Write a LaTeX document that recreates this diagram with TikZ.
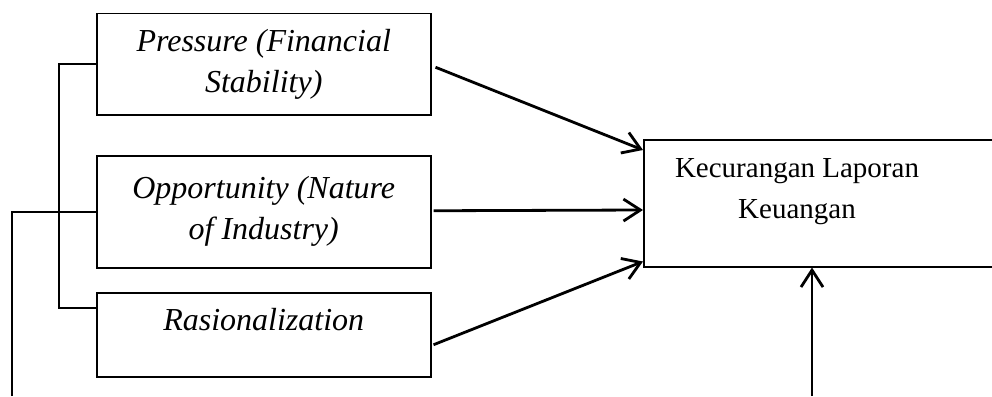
\documentclass[tikz,border=0pt]{standalone}
\usepackage{fontspec}
\setmainfont{Liberation Serif}
\usetikzlibrary{arrows.meta,calc,positioning}
\tikzset{
	factor/.style={draw, line width=1.5pt, minimum width=334pt, inner sep=0pt, align=center, anchor=north west, font=\fontsize{32}{41}\selectfont\itshape},
	link/.style={line width=2.8pt, -{Straight Barb[length=17pt,width=22pt]}},
	bracket/.style={line width=2.4pt}
}
\begin{document}
\begin{tikzpicture}[x=1pt,y=-1pt]
	\useasboundingbox (0,0) rectangle (992,396);
	\node[factor, minimum height=101pt] (1) at (96,13) {Pressure (Financial\\Stability)};
	\node[factor, minimum height=112pt] (2) at (96,155) {Opportunity (Nature\\of Industry)};
	\node[factor, minimum height=84pt, text height=20pt, text depth=28pt] (3) at (96,292) {Rasionalization};
	\node[draw, line width=1.5pt, minimum width=400pt, minimum height=127pt, anchor=north west] (4) at (643,139) {};
	\node[align=center, font=\fontsize{29}{41}\selectfont] (5) at (797,192) {Kecurangan Laporan\\Keuangan};
	\coordinate (6) at (12,396);
	\coordinate (7) at (59,308);
	\coordinate (8) at (812,396);
	\draw [bracket] (6) |- (2.west);
	\draw [bracket] (1.west) -| (7) -- (7 -| 3.west);
	\draw [link] ($(1.east)+(4,3)$) to ($(4.north west)+(0,11)$);
	\draw [link] ($(2.east)+(2,-1)$) to ($(4.north west)+(0,71)$);
	\draw [link] ($(3.east)+(2,10)$) to ($(4.south west)+(0,-6)$);
	\draw [link] (8) to (8 |- 4.south);
\end{tikzpicture}
\end{document}
